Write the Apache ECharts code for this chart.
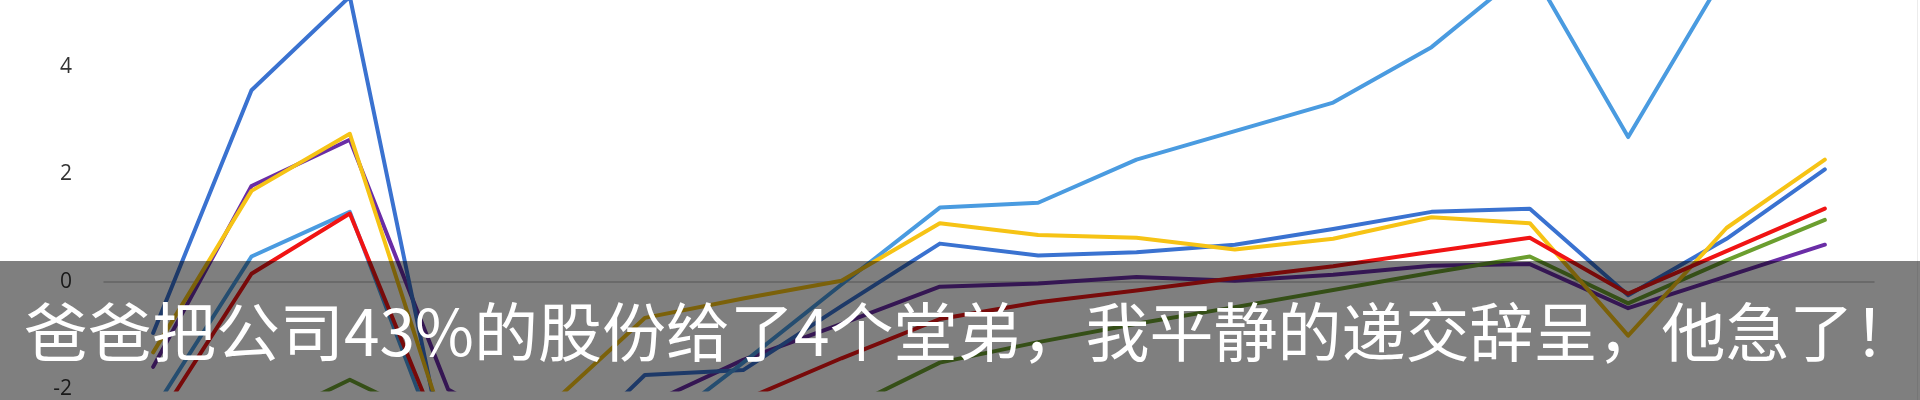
<!DOCTYPE html>
<html>
<head>
<meta charset="utf-8">
<script src="https://cdn.jsdelivr.net/npm/echarts@6/dist/echarts.min.js"></script>
<style>
html,body{margin:0;padding:0;background:#ffffff;}
#chart{width:1920px;height:400px;}
</style>
</head>
<body>
<div id="chart"></div>
<script>
// ---- data ----
const categories = ['1','2','3','4','5','6','7','8','9','10','11','12','13','14','15','16','17','18'];
const lightBlue = [-2.4, 0.47, 1.3, -3.5, -3.6, -2.9, -1.5, -0.05, 1.38, 1.47, 2.27, 2.8, 3.33, 4.36, 5.85, 2.69, 5.77, 6.0];
const blue      = [-0.95, 3.56, 5.3, -3.5, -3.5, -1.73, -1.64, -0.45, 0.71, 0.49, 0.55, 0.69, 0.98, 1.3, 1.36, -0.25, 0.8, 2.09];
const yellow    = [-1.31, 1.69, 2.75, -2.9, -2.35, -0.67, -0.31, 0.02, 1.09, 0.87, 0.82, 0.6, 0.8, 1.2, 1.09, -1.0, 1.0, 2.27];
const purple    = [-1.58, 1.78, 2.64, -2.0, -3.0, -2.3, -1.45, -0.78, -0.09, -0.03, 0.09, 0.02, 0.13, 0.3, 0.33, -0.49, 0.1, 0.69];
const red       = [-2.7, 0.15, 1.27, -3.2, -3.5, -2.9, -2.2, -1.42, -0.69, -0.38, -0.16, 0.07, 0.29, 0.56, 0.82, -0.22, 0.57, 1.36];
const green     = [-3.0, -2.7, -1.82, -2.7, -3.3, -3.2, -3.0, -2.4, -1.5, -1.12, -0.78, -0.47, -0.15, 0.17, 0.47, -0.4, 0.4, 1.15];
const yTicks = { min: -2, max: 5.236, interval: 2 };
const caption = '爸爸把公司43%的股份给了4个堂弟，我平静的递交辞呈，他急了！';

const chart = echarts.init(document.getElementById('chart'), null, { renderer: 'canvas' });

function lineSeries(name, data, color) {
  return {
    name: name, type: 'line', data: data,
    symbol: 'none', smooth: false, clip: true,
    lineStyle: { color: color, width: 4, cap: 'round', join: 'round' },
    itemStyle: { color: color },
    z: 2
  };
}

chart.setOption({
  animation: false,
  backgroundColor: '#ffffff',
  grid: { left: 104, right: 46, top: 0, bottom: 2, containLabel: false },
  xAxis: {
    type: 'category', data: categories, boundaryGap: true,
    axisLine: { show: true, onZero: true, lineStyle: { color: '#c8c8c8', width: 1.5 } },
    axisTick: { show: false }, axisLabel: { show: false }, splitLine: { show: false }
  },
  yAxis: {
    type: 'value', min: yTicks.min, max: yTicks.max, interval: yTicks.interval,
    axisLine: { show: false }, axisTick: { show: false }, splitLine: { show: false },
    axisLabel: { color: '#333333', fontSize: 21, margin: 32, fontFamily: 'Open Sans, sans-serif', showMaxLabel: false }
  },
  series: [
    lineSeries('purple', purple, '#6a2da6'),
    lineSeries('green', green, '#6b9e2f'),
    lineSeries('blue', blue, '#3a72d0'),
    lineSeries('lightBlue', lightBlue, '#4a9be0'),
    lineSeries('yellow', yellow, '#f6c315'),
    lineSeries('red', red, '#f01414')
  ],
  graphic: [
    { type: 'line', z: 50, shape: { x1: 1917.5, y1: 0, x2: 1917.5, y2: 400 },
      style: { stroke: '#ececec', lineWidth: 1 } },
    { type: 'rect', z: 100, shape: { x: 0, y: 261, width: 1920, height: 139 },
      style: { fill: 'rgba(0,0,0,0.5)' } },
    { type: 'text', z: 101, x: 24, y: 332,
      style: { text: caption, fill: '#ffffff', font: '64px "Noto Sans CJK SC"', textVerticalAlign: 'middle', textAlign: 'left' } }
  ]
});
</script>
</body>
</html>
